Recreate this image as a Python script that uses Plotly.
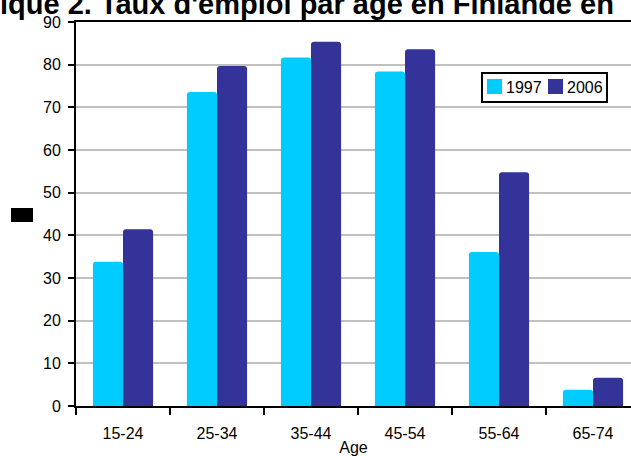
import plotly.graph_objects as go

categories = ["15-24", "25-34", "35-44", "45-54", "55-64", "65-74"]
series_names = ["1997", "2006"]
values_1997 = [33.8, 73.6, 81.7, 78.4, 36.1, 3.8]
values_2006 = [41.4, 79.7, 85.4, 83.6, 54.8, 6.6]
colors = ["#00CCFF", "#333399"]
y_ticks = [0, 10, 20, 30, 40, 50, 60, 70, 80, 90]
title_text = "ique 2. Taux d'emploi par âge en Finlande en"
x_title = "Age"

W, H = 631, 456
L, T, B = 76, 22, 50
cat_px = 94.0
plot_w = W - L
plot_h = H - T - B


def px_x(p):
    return (p - L) / plot_w


def px_y(p):
    return 1 - (p - T) / plot_h


fig = go.Figure()
for name, vals, col in zip(series_names, [values_1997, values_2006], colors):
    fig.add_trace(go.Bar(
        x=list(range(len(categories))), y=vals, name=name,
        marker=dict(color=col, line=dict(width=0), cornerradius=3),
        showlegend=False,
    ))

# custom legend (box, swatches, labels) to match reference compactness
shapes = [
    dict(type="rect", xref="paper", yref="paper",
         x0=px_x(11), x1=px_x(33), y0=px_y(222), y1=px_y(208),
         fillcolor="#000", line=dict(width=0)),
    dict(type="rect", xref="paper", yref="paper",
         x0=px_x(482), x1=px_x(607), y0=px_y(102), y1=px_y(73),
         fillcolor="white", line=dict(color="#000", width=2), layer="above"),
]
annotations = []
leg_x = [487, 548]
for i, (name, col) in enumerate(zip(series_names, colors)):
    x0 = leg_x[i]
    shapes.append(dict(type="rect", xref="paper", yref="paper",
                       x0=px_x(x0), x1=px_x(x0 + 15), y0=px_y(94), y1=px_y(79),
                       fillcolor=col, line=dict(width=0), layer="above"))
    annotations.append(dict(text=name, xref="paper", yref="paper",
                            x=px_x(x0 + 17), y=px_y(87.5), xanchor="left", yanchor="middle",
                            showarrow=False, font=dict(size=16, color="#000")))

fig.update_layout(
    width=W, height=H,
    margin=dict(l=L, r=0, t=T, b=B, pad=0, autoexpand=False),
    paper_bgcolor="white", plot_bgcolor="white",
    barmode="group", bargap=0.36, bargroupgap=0,
    font=dict(family="Liberation Sans, Arial", size=16, color="#000"),
    showlegend=False,
    title=dict(
        text=title_text, x=0, xref="container", xanchor="left",
        y=1 - 4 / H, yref="container", yanchor="middle",
        pad=dict(l=0, r=0, t=0, b=0),
        font=dict(family="Liberation Sans, Arial", size=29, color="#000", weight="bold"),
    ),
    shapes=shapes,
    annotations=annotations,
)

fig.update_xaxes(
    type="linear",
    range=[-0.5, -0.5 + plot_w / cat_px],
    tickmode="array",
    tickvals=list(range(len(categories))),
    ticktext=categories,
    showgrid=False, zeroline=False,
    showline=True, linecolor="#000", linewidth=2, mirror=True,
    ticks="", ticklabelstandoff=12,
    tickfont=dict(size=16),
    title=dict(text=x_title, font=dict(size=16), standoff=9),
)
fig.update_xaxes(
    minor=dict(tickvals=[i - 0.5 for i in range(len(categories) + 1)],
               ticks="outside", ticklen=7, tickwidth=2, tickcolor="#000", showgrid=False),
)
fig.update_yaxes(
    range=[0, 90], tickmode="array", tickvals=y_ticks,
    showgrid=True, gridcolor="#C0C0C0", gridwidth=2,
    zeroline=False,
    showline=True, linecolor="#000", linewidth=2,
    ticks="outside", ticklen=6, tickwidth=2, tickcolor="#000",
    ticklabelstandoff=4, tickfont=dict(size=16),
)

fig.write_html("out.html")
